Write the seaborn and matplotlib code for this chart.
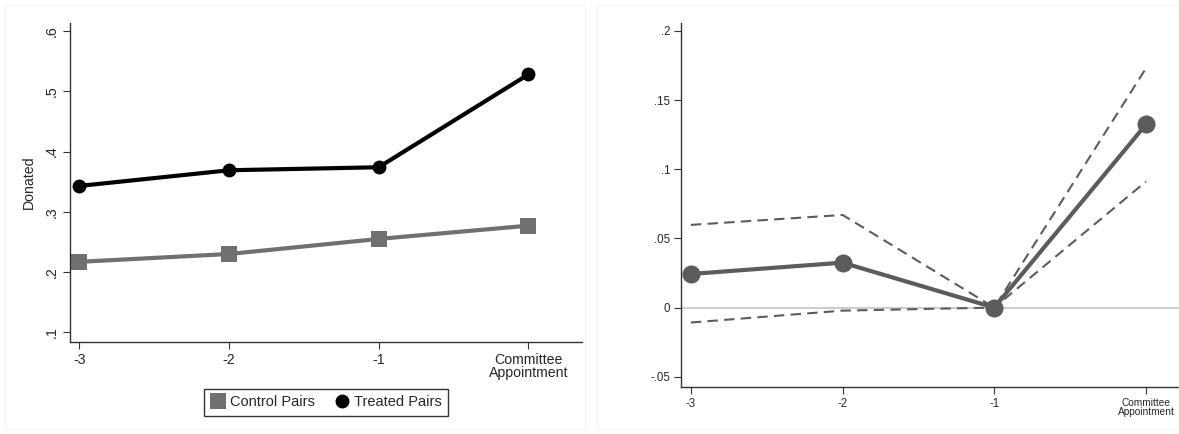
import seaborn as sns
import matplotlib.pyplot as plt
import pandas as pd
import numpy as np
from matplotlib.lines import Line2D
from matplotlib.patches import Rectangle

# event time labels
periods = ["-3", "-2", "-1", "Committee\nAppointment"]

# left panel: share donated
control_pairs = [0.217, 0.230, 0.255, 0.277]
treated_pairs = [0.343, 0.369, 0.374, 0.528]

# right panel: difference with 95% CI
estimate = [0.0243, 0.0325, 0.0, 0.1324]
ci_upper = [0.0598, 0.0670, 0.0, 0.1730]
ci_lower = [-0.0108, -0.0022, 0.0, 0.0911]

sns.set_style("ticks")
plt.rcParams['font.family'] = ['Liberation Sans', 'DejaVu Sans']

fig = plt.figure(figsize=(11.79, 4.34), dpi=100)

# faint panel frames like the stata export
for x0, x1 in [(5, 585), (597, 1179)]:
    fig.patches.append(Rectangle((x0 / 1179, 5 / 434), (x1 - x0) / 1179, 424 / 434,
                                 transform=fig.transFigure, fill=False,
                                 edgecolor="#f3f5f7", lw=1))

ax1 = fig.add_axes([0.059, 0.2127, 0.435, 0.735])
ax2 = fig.add_axes([0.578, 0.109, 0.422, 0.8387])

xs = np.arange(len(periods))
df_left = pd.DataFrame({
    "period": np.concatenate([xs, xs]),
    "donated": control_pairs + treated_pairs,
    "group": ["Control Pairs"] * 4 + ["Treated Pairs"] * 4,
})

sns.lineplot(data=df_left[df_left.group == "Control Pairs"], x="period", y="donated",
             color="#707070", marker="s", markersize=11, markeredgewidth=0, lw=3, ax=ax1)
sns.lineplot(data=df_left[df_left.group == "Treated Pairs"], x="period", y="donated",
             color="black", marker="o", markersize=10, markeredgewidth=0, lw=3, ax=ax1)

ax1.set_xlim(-0.066, 3.362)
ax1.set_ylim(0.0844, 0.614)
ax1.set_xticks(xs)
ax1.set_xticklabels(periods, fontsize=10.2, linespacing=0.95)
ax1.set_yticks([0.1, 0.2, 0.3, 0.4, 0.5, 0.6])
ax1.set_yticklabels([".1", ".2", ".3", ".4", ".5", ".6"], rotation=90, va="center", fontsize=10.2)
ax1.set_xlabel("")
ax1.set_ylabel("Donated", fontsize=10.2, labelpad=6)
sns.despine(ax=ax1)
for sp in ["left", "bottom"]:
    ax1.spines[sp].set_color("#333333")
    ax1.spines[sp].set_linewidth(1)
ax1.tick_params(length=5, width=0.8, color="#333333", pad=3)

handles = [Line2D([], [], marker="s", color="#707070", ls="none", markersize=11, markeredgewidth=0),
           Line2D([], [], marker="o", color="black", ls="none", markersize=10, markeredgewidth=0)]
leg = fig.legend(handles, ["Control Pairs", "Treated Pairs"], loc="center",
                 bbox_to_anchor=(0.2766, 0.0726), ncol=2, fontsize=10.5,
                 frameon=True, fancybox=False, edgecolor="black",
                 handletextpad=0.3, columnspacing=1.4, borderpad=0.45, handlelength=1.0)
leg.get_frame().set_linewidth(1)

# right panel
df_right = pd.DataFrame({"period": xs, "estimate": estimate,
                         "ci_upper": ci_upper, "ci_lower": ci_lower})
ax2.axhline(0, color="#c4c4c4", lw=1.2, zorder=0)
sns.lineplot(data=df_right, x="period", y="ci_upper", color="#5c5c5c", lw=1.5,
             linestyle=(0, (5, 3)), ax=ax2)
sns.lineplot(data=df_right, x="period", y="ci_lower", color="#5c5c5c", lw=1.5,
             linestyle=(0, (5, 3)), ax=ax2)
sns.lineplot(data=df_right, x="period", y="estimate", color="#5c5c5c", lw=3,
             marker="o", markersize=13, markeredgewidth=0, ax=ax2)

ax2.set_xlim(-0.062, 3.218)
ax2.set_ylim(-0.0572, 0.206)
ax2.set_xticks(xs)
ax2.set_xticklabels(periods, fontsize=7.3, linespacing=0.95)
ax2.set_yticks([-0.05, 0, 0.05, 0.1, 0.15, 0.2])
ax2.set_yticklabels(["-.05", "0", ".05", ".1", ".15", ".2"], fontsize=8.3)
ax2.set_xlabel("")
ax2.set_ylabel("")
sns.despine(ax=ax2)
for sp in ["left", "bottom"]:
    ax2.spines[sp].set_color("#333333")
    ax2.spines[sp].set_linewidth(1)
ax2.tick_params(length=5, width=0.8, color="#333333", pad=3)
for lab in ax2.get_xticklabels()[:3]:
    lab.set_fontsize(8.3)

fig.savefig("out.png", dpi=100)
